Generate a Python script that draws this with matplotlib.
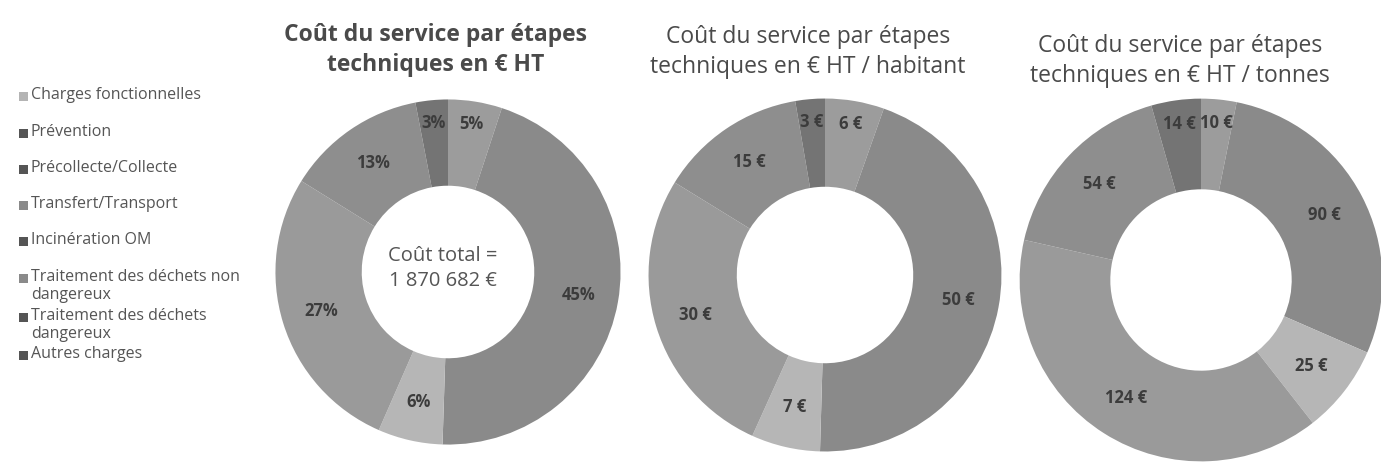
import matplotlib
matplotlib.use("Agg")
import matplotlib.pyplot as plt
import numpy as np
from matplotlib.patches import Rectangle

plt.rcParams["font.family"] = ["Open Sans", "DejaVu Sans"]

W, H = 1381, 476

categories = [
    "Charges fonctionnelles",
    "Prévention",
    "Précollecte/Collecte",
    "Transfert/Transport",
    "Incinération OM",
    "Traitement des déchets non\ndangereux",
    "Traitement des déchets\ndangereux",
    "Autres charges",
]
colors = ["#9c9c9c", "#6e6e6e", "#8a8a8a", "#b6b6b6",
          "#9a9a9a", "#8e8e8e", "#707070", "#747474"]
legend_colors = ["#b4b4b4", "#555555", "#555555", "#8a8a8a",
                 "#555555", "#8a8a8a", "#555555", "#555555"]

# values per category (zeros for categories absent from the charts)
pct_values = [5, 0, 45, 6, 27, 13, 0, 3]
hab_values = [6, 0, 50, 7, 30, 15, 0, 3]
tonne_values = [10, 0, 90, 25, 124, 54, 0, 14]

titles = [
    "Coût du service par étapes\ntechniques en € HT",
    "Coût du service par étapes\ntechniques en € HT / habitant",
    "Coût du service par étapes\ntechniques en € HT / tonnes",
]
total_text = "Coût total =\n1 870 682 €"

fig = plt.figure(figsize=(W / 100, H / 100), dpi=100)
fig.patch.set_facecolor("white")


def px_axes(cx, cy, r):
    return fig.add_axes([(cx - r) / W, (H - cy - r) / H, 2 * r / W, 2 * r / H])


def donut(ax, values, fmt):
    wedges, _ = ax.pie(values, colors=colors, startangle=90, counterclock=False,
                       radius=1.0, wedgeprops=dict(width=0.5, linewidth=0))
    total = sum(values)
    for w, v in zip(wedges, values):
        if v == 0:
            continue
        # small slices get their label pushed toward the outer edge
        dist = 0.87 if v / total < 0.055 else 0.77
        ang = np.deg2rad((w.theta1 + w.theta2) / 2)
        ax.text(dist * np.cos(ang), dist * np.sin(ang), fmt(v),
                ha="center", va="center", fontsize=12, fontweight="bold",
                color="#3c3c3c")
    ax.set_xlim(-1.02, 1.02)
    ax.set_ylim(-1.02, 1.02)
    ax.set_aspect("equal")
    ax.axis("off")


ax1 = px_axes(448, 272, 176)
donut(ax1, pct_values, lambda v: f"{v}%")
ax1.text(-0.03, 0.02, total_text, ha="center", va="center", fontsize=14.5,
         color="#555555", linespacing=1.3)

ax2 = px_axes(825, 275, 180)
donut(ax2, hab_values, lambda v: f"{v} €")

ax3 = px_axes(1201, 280, 185)
donut(ax3, tonne_values, lambda v: f"{v} €")

title_pos = [(436, 50), (808, 52), (1180, 61)]
for (tx, ty), t, wgt in zip(title_pos, titles, ["bold", "normal", "normal"]):
    fig.text(tx / W, 1 - ty / H, t, ha="center", va="center", fontsize=16.5,
             fontweight=wgt, color="#4a4a4a", linespacing=1.35)

# legend
legend_y = [97, 134, 170, 206, 242, 279, 318, 356]
for y, lab, c in zip(legend_y, categories, legend_colors):
    fig.add_artist(Rectangle((19 / W, 1 - (y + 4) / H), 9 / W, 9 / H,
                             transform=fig.transFigure, facecolor=c,
                             edgecolor="none"))
    fig.text(31 / W, 1 - (y - 10) / H, lab, ha="left", va="top", fontsize=11.5,
             color="#555555", linespacing=1.15)

fig.savefig("out.png", dpi=100, facecolor="white")
